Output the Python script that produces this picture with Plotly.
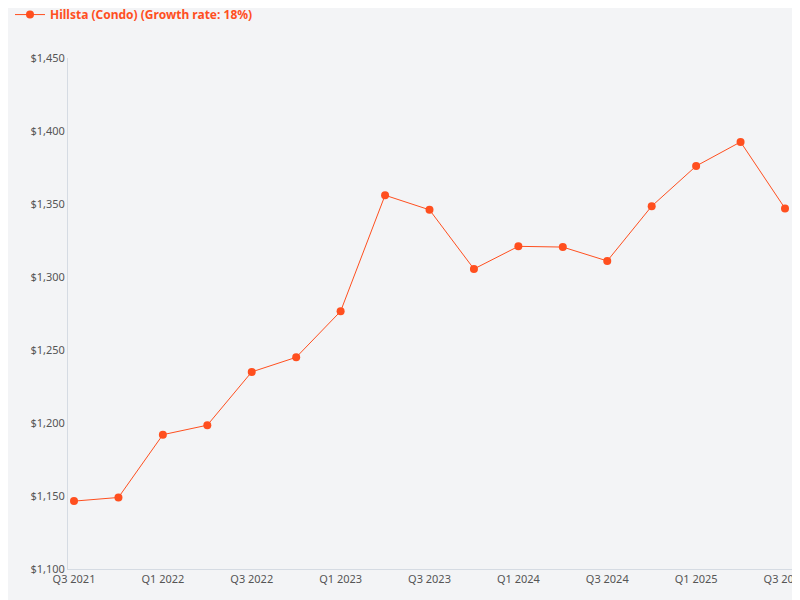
import plotly.graph_objects as go

quarters = ["Q3 2021","Q4 2021","Q1 2022","Q2 2022","Q3 2022","Q4 2022","Q1 2023","Q2 2023","Q3 2023",
            "Q4 2023","Q1 2024","Q2 2024","Q3 2024","Q4 2024","Q1 2025","Q2 2025","Q3 2025"]
prices = [1146.5,1149,1192,1198.5,1235,1245,1276.5,1356,1346,1305.5,1321,1320.5,1311,1348.5,1376,1392.5,1347]
tick_labels = quarters[::2]

fig = go.Figure(go.Scatter(
    x=list(range(len(quarters))), y=prices, mode="lines+markers",
    name="<b>Hillsta (Condo) (Growth rate: 18%)</b>",
    line=dict(color="#ff4f1f", width=1), marker=dict(color="#ff4f1f", size=8),
))
fig.update_layout(
    width=800, height=600, paper_bgcolor="#f3f4f6", plot_bgcolor="#f3f4f6",
    margin=dict(l=60, r=15, t=50, b=39, autoexpand=False),
    font=dict(family="Noto Sans", size=11, color="#555"),
    showlegend=True,
    legend=dict(x=-0.08, y=1.085, xanchor="left", yanchor="middle", orientation="h",
                font=dict(size=12, color="#ff4f1f", family="Noto Sans"), itemwidth=30,
                bgcolor="rgba(0,0,0,0)"),
    xaxis=dict(tickvals=list(range(0, len(quarters), 2)), ticktext=tick_labels,
               range=[-0.135, 16.18], showgrid=False, zeroline=False, automargin=False,
               showline=True, linecolor="#d5dbe3", ticks=""),
    yaxis=dict(range=[1100, 1450], dtick=50, tickprefix="$", tickformat=",", automargin=False,
               showgrid=False, zeroline=False, showline=True, linecolor="#d5dbe3", ticks=""),
)
fig.write_html("out.html", config={"responsive": False})
